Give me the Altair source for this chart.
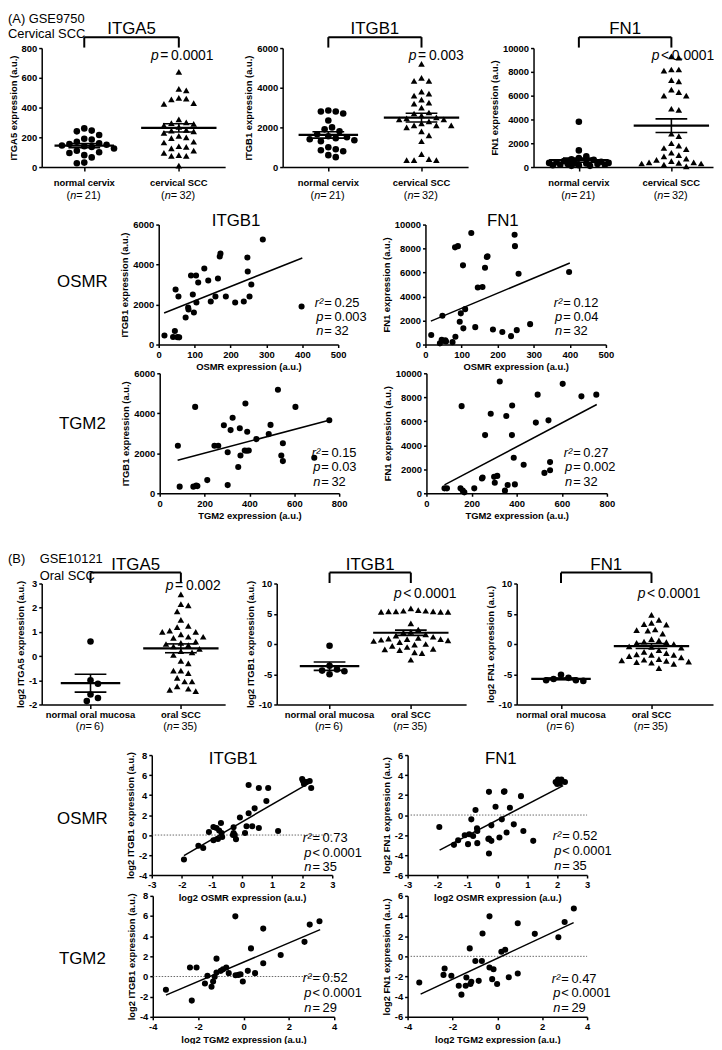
import altair as alt
import numpy as np
import pandas as pd

# ---------------- Section A (GSE9750, cervical SCC) ----------------
a_itga5_normal = [260, 245, 240, 215, 190, 185, 170, 160, 155, 150, 145, 140, 135, 125, 110, 100, 95, 80, 65, 30, 25]
a_itga5_scc = [640, 525, 515, 465, 460, 455, 430, 425, 320, 300, 295, 290, 280, 270, 250, 245, 240, 230, 210, 200,
               195, 170, 165, 140, 135, 125, 110, 95, 80, 75, 75, 10]
a_itgb1_normal = [2850, 2800, 2800, 2700, 2350, 2000, 1900, 1800, 1650, 1550, 1500, 1450, 1400, 1350, 1300, 1000,
                  900, 850, 800, 600, 500]
a_itgb1_scc = [5200, 4500, 4350, 4350, 3800, 3700, 3600, 3400, 3250, 3200, 3000, 2750, 2700, 2600, 2500, 2450, 2400,
               2400, 2300, 2200, 2100, 2100, 2100, 2000, 1800, 1600, 1300, 650, 400, 350, 350, 350]
a_fn1_normal = [3800, 1400, 900, 750, 650, 600, 500, 450, 400, 350, 350, 300, 300, 250, 250, 200, 200, 150, 150, 100, 100]
a_fn1_scc = [9300, 9200, 8200, 8100, 8200, 7300, 7200, 6500, 6300, 6000, 6000, 4900, 4800, 2800, 2600, 2000, 1800,
             1600, 1500, 1200, 1000, 900, 700, 600, 500, 400, 400, 350, 300, 300, 200, 50]

a_osmr = [16, 40, 45, 47, 52, 55, 57, 75, 82, 83, 90, 95, 98, 104, 105, 110, 127, 138, 145, 158, 165, 170, 172, 187,
          213, 237, 247, 248, 253, 258, 290, 398]
a_itgb1_vs_osmr = [450, 380, 680, 2750, 370, 2400, 360, 1350, 1850, 1750, 3450, 2500, 1600, 3450, 2100, 3100, 3800,
                   3200, 2150, 2400, 3300, 4400, 4550, 2400, 2100, 2150, 4350, 3650, 2400, 3000, 5250, 1900]
a_fn1_vs_osmr = [800, 100, 400, 2400, 300, 350, 250, 200, 8100, 650, 8200, 1900, 2600, 6600, 1350, 2950, 9300, 1450,
                 4750, 4800, 6400, 7300, 7350, 1250, 1050, 700, 9150, 8200, 1200, 5900, 1700, 6050]
a_tgm2_i = [81, 89, 150, 158, 163, 168, 212, 244, 261, 286, 303, 303, 316, 325, 350, 357, 360, 379, 382, 388, 390, 397,
            431, 486, 494, 527, 542, 549, 549, 605, 689, 756]
a_itgb1_vs_tgm2 = [2380, 330, 330, 4320, 380, 360, 660, 2380, 2380, 3400, 2055, 410, 3160, 3780, 1315, 3255, 1890,
                   2140, 4490, 2130, 3075, 2140, 2710, 2960, 3420, 5180, 1890, 2500, 1610, 4320, 1775, 3650]
a_tgm2_f = [80, 91, 151, 156, 161, 168, 212, 246, 249, 260, 285, 300, 303, 314, 325, 348, 354, 360, 379, 380, 387, 392,
            431, 485, 493, 523, 541, 548, 548, 604, 687, 753]
a_fn1_vs_tgm2 = [410, 410, 410, 7260, 220, 80, 410, 1230, 1310, 4850, 6630, 1370, 880, 1450, 9320, 220, 6440, 685,
                 4850, 7320, 2960, 740, 2380, 5890, 8220, 1700, 6080, 2600, 1920, 9120, 8080, 8220]

a_fit_itgb1_osmr = ([15, 400], [1580, 4330])
a_fit_fn1_osmr = ([15, 400], [1950, 6800])
a_fit_itgb1_tgm2 = ([80, 755], [1650, 3650])
a_fit_fn1_tgm2 = ([80, 755], [700, 7400])

# ---------------- Section B (GSE10121, oral SCC) ----------------
b_itga5_normal = [0.6, -1.0, -1.14, -1.59, -1.73, -1.86]
b_itga5_scc = [2.55, 2.15, 2.1, 1.85, 1.5, 1.25, 1.2, 1.05, 1.0, 1.0, 0.8, 0.75, 0.9, 0.8, 0.6, 0.55, 0.5, 0.45, 0.4,
               0.3, 0.2, 0.15, 0.05, -0.2, -0.3, -0.6, -0.6, -0.7, -0.9, -1.05, -1.05, -1.25, -1.35, -1.45, -1.4]
b_itgb1_normal = [-0.3, -3.6, -4.2, -4.4, -4.5, -5.0]
b_itgb1_scc = [5.9, 5.6, 5.5, 5.4, 5.4, 5.3, 5.3, 5.3, 5.4, 5.5, 3.4, 2.4, 2.0, 1.9, 1.6, 1.4, 1.2, 1.0, 0.9, 0.8, 0.8,
               0.7, 0.6, 0.5, 0.3, 0.0, -0.1, -0.3, -0.5, -0.8, -0.9, -1.0, -1.4, -1.5, -2.6]
b_fn1_normal = [-5.6, -5.8, -6.0, -6.1, -6.0, -5.1]
b_fn1_scc = [4.8, 4.0, 3.5, 3.3, 3.2, 2.4, 2.3, 2.2, 1.7, 0.8, 0.6, 0.4, 0.3, 0.2, 0.0, -0.4, -0.5, -0.6, -1.0, -1.3,
             -1.5, -1.7, -1.8, -1.8, -2.0, -2.2, -2.5, -2.6, -2.7, -2.8, -2.9, -3.0, -3.1, -3.3, -4.0]

b_osmr_i = [-1.93, -1.45, -1.29, -1.10, -0.95, -0.95, -0.85, -0.80, -0.76, -0.70, -0.68, -0.66, -0.30, -0.28, -0.28,
            -0.24, -0.20, -0.07, 0.10, 0.15, 0.22, 0.22, 0.34, 0.42, 0.56, 0.56, 0.81, 0.87, 1.20, 2.00, 2.03, 2.06,
            2.14, 2.25, 2.30]
b_itgb1_vs_osmr = [-2.44, -1.07, -1.30, 0.30, -0.52, 0.80, 0.70, -0.40, 0.45, 1.20, 0.20, -0.20, 0.00, 0.78, 0.20,
                   0.00, -0.42, 1.75, 0.20, 0.88, 5.00, 2.18, 0.88, 2.67, 4.70, 0.70, 3.40, 4.70, 0.40, 5.60, 5.40,
                   5.10, 5.30, 5.40, 4.70]
b_osmr_f = [-1.94, -1.45, -1.31, -1.09, -0.98, -0.94, -0.87, -0.81, -0.73, -0.68, -0.67, -0.67, -0.30, -0.28, -0.28,
            -0.28, -0.20, -0.20, -0.06, 0.07, 0.15, 0.22, 0.24, 0.31, 0.42, 0.55, 0.79, 0.87, 1.20, 1.95, 2.00, 2.03,
            2.09, 2.14, 2.26]
b_fn1_vs_osmr = [-1.19, -2.98, -2.52, -2.02, -2.91, -1.92, -0.43, -2.09, 0.50, -1.32, -2.81, -1.59, -2.40, -2.35,
                 -3.84, 2.32, -2.58, -1.03, 0.83, -2.25, -0.43, 2.32, 2.38, -1.75, 0.73, -0.93, 1.89, -1.59, -2.58,
                 3.31, 3.10, 3.54, 3.15, 3.54, 3.31]
b_tgm2_i = [-3.42, -2.36, -2.28, -2.07, -1.70, -1.59, -1.41, -1.34, -1.27, -1.19, -1.19, -1.00, -0.90, -0.76, -0.65,
            -0.36, -0.35, -0.22, -0.13, -0.03, 0.19, 0.33, 0.51, 0.87, 0.87, 1.64, 2.69, 2.92, 3.35]
b_itgb1_vs_tgm2 = [-1.31, 0.89, -2.39, 0.89, -0.69, 0.07, -1.02, -0.49, -0.03, 1.77, 0.39, 0.56, 0.72, 0.89, 0.33,
                   5.97, 0.13, 0.16, 0.23, -0.49, 0.56, 2.79, 0.33, 1.31, 4.75, 2.13, 3.44, 5.15, 5.48]
b_tgm2_f = [-3.48, -2.35, -2.40, -2.05, -1.72, -1.60, -1.38, -1.41, -1.23, -1.20, -1.16, -0.98, -0.83, -0.69, -0.66,
            -0.35, -0.35, -0.17, -0.23, -0.01, 0.18, 0.35, 0.51, 0.91, 0.91, 1.67, 2.72, 3.00, 3.41]
b_fn1_vs_tgm2 = [-2.59, -1.21, -1.84, -1.93, -2.92, -3.80, -2.10, -2.92, 0.79, -2.75, -2.52, -0.46, -2.43, -0.46,
                 2.26, 3.97, -1.11, -1.28, -2.26, -2.75, 0.46, 0.66, -2.07, 3.28, -1.70, 2.23, 1.90, 3.41, 4.75]

b_fit_itgb1_osmr = ([-1.93, 2.2], [-2.05, 5.15])
b_fit_fn1_osmr = ([-1.93, 2.2], [-3.5, 2.95])
b_fit_itgb1_tgm2 = ([-3.42, 3.38], [-1.85, 4.65])
b_fit_fn1_tgm2 = ([-3.42, 3.4], [-3.75, 3.35])

# ---------------- layout / style ----------------
FONT = "Liberation Sans"
W, H = 712, 1036


def ax(**kw):
    base = dict(grid=False, domainColor="black", domainWidth=1.5, tickColor="black", tickWidth=1.5,
                tickSize=3, labelFont=FONT, labelFontSize=9.5, labelFontWeight="bold", labelColor="black",
                labelPadding=2, labelFlush=False, labelOverlap=False, titleFont=FONT, titleFontSize=9.5,
                titleFontWeight="bold", titleColor="black", titlePadding=3)
    base.update(kw)
    return alt.Axis(**base)


def swarm(vals, ppy, d, hw_max):
    """Column-scatter layout: points at similar heights are spread sideways, within a capped width."""
    v = np.asarray(vals, float)
    yp = v * ppy
    order = np.argsort(-v, kind="stable")
    placed = []
    off = np.zeros(len(v))
    step = d * 0.5
    kmax = int(hw_max // step)
    for i in order:
        best, best_score, chosen = 0.0, -1.0, None
        for k in range(kmax + 1):
            for c in ([0.0] if k == 0 else [k * step, -k * step]):
                mind = min((((c - px) ** 2 + (yp[i] - py) ** 2) ** 0.5 for px, py in placed), default=1e9)
                if mind >= d:
                    chosen = c
                    break
                if mind > best_score:
                    best_score, best = mind, c
            if chosen is not None:
                break
        if chosen is None:
            chosen = best
        off[i] = chosen
        placed.append((chosen, yp[i]))
    return off


def dot_panel(x0, x1, yt, yb, xdom, ydom, yticks, ytitle, normal, scc):
    ppx = (x1 - x0) / (xdom[1] - xdom[0])
    ppy = (yb - yt) / (ydom[1] - ydom[0])
    xs = alt.Scale(domain=list(xdom), range=[x0, x1], nice=False, zero=False)
    ys = alt.Scale(domain=list(ydom), range=[yb, yt], nice=False, zero=False)
    xa = ax(orient="bottom", offset=yb - H, values=[1, 2], labels=False, title="", tickSize=4)
    ya = ax(orient="left", offset=-x0, values=yticks, title=ytitle, labelExpr="'' + datum.value")

    def X(f):
        return alt.X(f, type="quantitative", scale=xs, axis=xa)

    def Y(f):
        return alt.Y(f, type="quantitative", scale=ys, axis=ya)

    dn = pd.DataFrame({"x": 1 + swarm(normal, ppy, 7.5, 32) / ppx, "y": normal})
    ds = pd.DataFrame({"x": 2 + swarm(scc, ppy, 7.5, 40) / ppx, "y": scc})
    pn = alt.Chart(dn).mark_point(shape="circle", filled=True, size=44, color="black", opacity=1).encode(
        x=X("x"), y=Y("y"))
    ps = alt.Chart(ds).mark_point(shape="triangle-up", filled=True, size=44, color="black", opacity=1).encode(
        x=X("x"), y=Y("y"))

    mrows, srows, vrows = [], [], []
    for c, vals, hw in ((1, normal, 30), (2, scc, 38)):
        v = np.asarray(vals, float)
        m = v.mean()
        s = v.std(ddof=1) / np.sqrt(len(v))
        mrows.append(dict(x=c - hw / ppx, x2=c + hw / ppx, y=m))
        for yy in (m - s, m + s):
            srows.append(dict(x=c - 16 / ppx, x2=c + 16 / ppx, y=yy))
        vrows.append(dict(x=c, y=m - s, y2=m + s))
    mean = alt.Chart(pd.DataFrame(mrows)).mark_rule(color="black", strokeWidth=2.2).encode(
        x=X("x"), x2="x2", y=Y("y"))
    semh = alt.Chart(pd.DataFrame(srows)).mark_rule(color="black", strokeWidth=1.6).encode(
        x=X("x"), x2="x2", y=Y("y"))
    semv = alt.Chart(pd.DataFrame(vrows)).mark_rule(color="black", strokeWidth=1.6).encode(
        x=X("x"), y=Y("y"), y2="y2")

    top = ydom[1]
    ybr = top + 11 / ppy
    brh = alt.Chart(pd.DataFrame({"x": [1], "x2": [2], "y": [ybr]})).mark_rule(
        color="black", strokeWidth=2).encode(x=X("x"), x2="x2", y=Y("y"))
    brv = alt.Chart(pd.DataFrame({"x": [1, 2], "y": [top + 0.5 / ppy] * 2, "y2": [ybr] * 2})).mark_rule(
        color="black", strokeWidth=2).encode(x=X("x"), y=Y("y"), y2="y2")
    layer = alt.layer(pn, ps, mean, semh, semv, brh, brv)
    cx = [x0 + (c - xdom[0]) * ppx for c in (1, 2)]
    return layer, cx


def scatter_panel(x0, x1, yt, yb, xdom, ydom, xticks, yticks, xtitle, ytitle, xv, yv, fit, zero_line=False):
    xs = alt.Scale(domain=list(xdom), range=[x0, x1], nice=False, zero=False)
    ys = alt.Scale(domain=list(ydom), range=[yb, yt], nice=False, zero=False)
    xa = ax(orient="bottom", offset=yb - H, values=xticks, title=xtitle, labelExpr="'' + datum.value")
    ya = ax(orient="left", offset=-x0, values=yticks, title=ytitle, labelExpr="'' + datum.value")

    def X(f):
        return alt.X(f, type="quantitative", scale=xs, axis=xa)

    def Y(f):
        return alt.Y(f, type="quantitative", scale=ys, axis=ya)

    pts = alt.Chart(pd.DataFrame({"x": xv, "y": yv})).mark_circle(size=38, color="black", opacity=1).encode(
        x=X("x"), y=Y("y"))
    line = alt.Chart(pd.DataFrame({"x": fit[0], "y": fit[1]})).mark_line(color="black", strokeWidth=1.5).encode(
        x=X("x"), y=Y("y"))
    parts = [pts, line]
    if zero_line:
        z = alt.Chart(pd.DataFrame({"x": [xdom[0]], "x2": [xdom[1]], "y": [0]})).mark_rule(
            color="#444444", strokeWidth=0.8, strokeDash=[1.5, 1.5]).encode(x=X("x"), x2="x2", y=Y("y"))
        parts.insert(0, z)
    return alt.layer(*parts)


def texts(rows, size, weight="normal", style="normal", align="left"):
    df = pd.DataFrame(rows, columns=["x", "y", "t"])
    return alt.Chart(df).mark_text(font=FONT, fontSize=size, fontWeight=weight, fontStyle=style, align=align,
                                   baseline="middle", color="black").encode(
        x=alt.X("x:Q", scale=None, axis=None), y=alt.Y("y:Q", scale=None, axis=None), text="t:N")


layers = []
big, cat1, it_n, paren, rest_n = [], [], [], [], []
p_it, p_rest, st_it, st_rest = [], [], [], []
TS = "\u2009"


def cat_labels(cx, names, ns, y1, y2):
    for c, nm, n in zip(cx, names, ns):
        cat1.append((c, y1, nm))
        total = 3.7 + 6.1 + 3.6 + 6.4 + 6.1 * len(str(n)) + 3.7
        L = c - total / 2
        paren.append((L, y2, "("))
        it_n.append((L + 3.7, y2, "n"))
        rest_n.append((L + 9.8, y2, TS + "=" + TS + str(n) + ")"))


def pval(xa, y, rest):
    p_it.append((xa, y, "p"))
    p_rest.append((xa + 1.5, y, rest))


def stats(xa, ys, r2, p, n):
    st_it.extend([(xa, ys[0], "r\u00b2"), (xa, ys[1], "p"), (xa, ys[2], "n")])
    st_rest.extend([(xa + 1, ys[0], TS + "=" + TS + r2), (xa + 1, ys[1], p), (xa + 1, ys[2], TS + "=" + TS + n)])


# ---- A dot plots ----
a_dot = [
    (34, 219, (0.55, 2.49), (0, 800), [0, 200, 400, 600, 800], "ITGA5 expression (a.u.)", a_itga5_normal, a_itga5_scc, "ITGA5", 152, TS + "=" + TS + "0.0001"),
    (277, 464, (0.51, 2.5), (0, 6000), [0, 2000, 4000, 6000], "ITGB1 expression (a.u.)", a_itgb1_normal, a_itgb1_scc, "ITGB1", 412, TS + "=" + TS + "0.003"),
    (530, 711, (0.51, 2.45), (0, 10000), [0, 2000, 4000, 6000, 8000, 10000], "FN1 expression (a.u.)", a_fn1_normal, a_fn1_scc, "FN1", 657, TS + "<" + TS + "0.0001"),
]
for x0, x1, xd, yd, yt_, tt, nv, sv, title, pxa, ptxt in a_dot:
    lay, cx = dot_panel(x0, x1, 36, 156, xd, yd, yt_, tt, nv, sv)
    layers.append(lay)
    big.append(((cx[0] + cx[1]) / 2, 17, title))
    cat_labels(cx, ["normal cervix", "cervical SCC"], [21, 32], 172, 185)
    pval(pxa, 44, ptxt)

# ---- A scatter plots ----
layers.append(scatter_panel(152, 333, 214, 335, (0, 500), (0, 6000), [0, 100, 200, 300, 400, 500], [0, 2000, 4000, 6000],
                            "OSMR expression (a.u.)", "ITGB1 expression (a.u.)", a_osmr, a_itgb1_vs_osmr, a_fit_itgb1_osmr))
layers.append(scatter_panel(421, 603, 214, 335, (0, 500), (0, 10000), [0, 100, 200, 300, 400, 500], [0, 2000, 4000, 6000, 8000, 10000],
                            "OSMR expression (a.u.)", "FN1 expression (a.u.)", a_osmr, a_fn1_vs_osmr, a_fit_fn1_osmr))
layers.append(scatter_panel(153, 334, 364, 485, (0, 800), (0, 6000), [0, 200, 400, 600, 800], [0, 2000, 4000, 6000],
                            "TGM2 expression (a.u.)", "ITGB1 expression (a.u.)", a_tgm2_i, a_itgb1_vs_tgm2, a_fit_itgb1_tgm2))
layers.append(scatter_panel(422, 604, 364, 485, (0, 800), (0, 10000), [0, 200, 400, 600, 800], [0, 2000, 4000, 6000, 8000, 10000],
                            "TGM2 expression (a.u.)", "FN1 expression (a.u.)", a_tgm2_f, a_fn1_vs_tgm2, a_fit_fn1_tgm2))
big.extend([(230, 210, "ITGB1"), (499, 210, "FN1"), (75, 272, "OSMR"), (75, 415, "TGM2")])
stats(318, (293, 307, 321), "0.25", TS + "=" + TS + "0.003", "32")
stats(559, (293, 307, 321), "0.12", TS + "=" + TS + "0.04", "32")
stats(315, (444, 459, 474), "0.15", TS + "=" + TS + "0.03", "32")
stats(569, (444, 459, 474), "0.27", TS + "=" + TS + "0.002", "32")

# ---- B dot plots ----
b_dot = [
    (34, 219, (0.46, 2.49), (-2, 3), [-2, -1, 0, 1, 2, 3], "log2 ITGA5 expression (a.u.)", b_itga5_normal, b_itga5_scc, "ITGA5", 167, 579, TS + "=" + TS + "0.002"),
    (271, 462, (0.35, 2.68), (-10, 10), [-10, -5, 0, 5, 10], "log2 ITGB1 expression (a.u.)", b_itgb1_normal, b_itgb1_scc, "ITGB1", 397, 587, TS + "<" + TS + "0.0001"),
    (513, 711, (0.51, 2.68), (-10, 10), [-10, -5, 0, 5, 10], "log2 FN1 expression (a.u.)", b_fn1_normal, b_fn1_scc, "FN1", 643, 587, TS + "<" + TS + "0.0001"),
]
for x0, x1, xd, yd, yt_, tt, nv, sv, title, pxa, py, ptxt in b_dot:
    lay, cx = dot_panel(x0, x1, 576, 698, xd, yd, yt_, tt, nv, sv)
    layers.append(lay)
    big.append(((cx[0] + cx[1]) / 2, 557, title))
    cat_labels(cx, ["normal oral mucosa", "oral SCC"], [6, 35], 709, 721)
    pval(pxa, py, ptxt)

# ---- B scatter plots ----
layers.append(scatter_panel(145, 327, 749, 870, (-3, 3), (-4, 8), [-3, -2, -1, 0, 1, 2, 3], [-4, -2, 0, 2, 4, 6, 8],
                            "log2 OSMR expression (a.u.)", "log2 ITGB1 expression (a.u.)", b_osmr_i, b_itgb1_vs_osmr, b_fit_itgb1_osmr, True))
layers.append(scatter_panel(403, 584, 749, 870, (-3, 3), (-6, 6), [-3, -2, -1, 0, 1, 2, 3], [-6, -4, -2, 0, 2, 4, 6],
                            "log2 OSMR expression (a.u.)", "log2 FN1 expression (a.u.)", b_osmr_f, b_fn1_vs_osmr, b_fit_fn1_osmr, True))
layers.append(scatter_panel(146, 329, 891, 1013, (-4, 4), (-4, 8), [-4, -2, 0, 2, 4], [-4, -2, 0, 2, 4, 6, 8],
                            "log2 TGM2 expression (a.u.)", "log2 ITGB1 expression (a.u.)", b_tgm2_i, b_itgb1_vs_tgm2, b_fit_itgb1_tgm2, True))
layers.append(scatter_panel(403, 584, 891, 1013, (-4, 4), (-6, 6), [-4, -2, 0, 2, 4], [-6, -4, -2, 0, 2, 4, 6],
                            "log2 TGM2 expression (a.u.)", "log2 FN1 expression (a.u.)", b_tgm2_f, b_fn1_vs_tgm2, b_fit_fn1_tgm2, True))
big.extend([(227, 753, "ITGB1"), (497, 753, "FN1"), (75, 814, "OSMR"), (75, 955, "TGM2")])
stats(306, (833, 848, 862), "0.73", TS + "<" + TS + "0.0001", "35")
stats(558, (831, 846, 861), "0.52", TS + "<" + TS + "0.0001", "35")
stats(306, (974, 989, 1004), "0.52", TS + "<" + TS + "0.0001", "29")
stats(557, (975, 989, 1004), "0.47", TS + "<" + TS + "0.0001", "29")

sec = [(0, 6.5, "(A) GSE9750"), (0, 21.5, "Cervical SCC"), (0, 551, "(B)"), (32, 551, "GSE10121"), (32, 568, "Oral SCC")]

layers.append(texts(sec, 13))
layers.append(texts(big, 17, align="center"))
layers.append(texts(cat1, 9.5, weight="bold", align="center"))
layers.append(texts(paren + rest_n, 11))
layers.append(texts(it_n, 11, style="italic"))
layers.append(texts(p_it, 14, style="italic", align="right"))
layers.append(texts(p_rest, 14))
layers.append(texts(st_it, 13, style="italic", align="right"))
layers.append(texts(st_rest, 13))

chart = alt.layer(*layers).resolve_scale(x="independent", y="independent").properties(
    width=W, height=H, autosize=alt.AutoSizeParams(type="none"), padding=0, background="white"
).configure_view(strokeWidth=0)

chart.save("out.html", embed_options={"renderer": "svg", "actions": False})
